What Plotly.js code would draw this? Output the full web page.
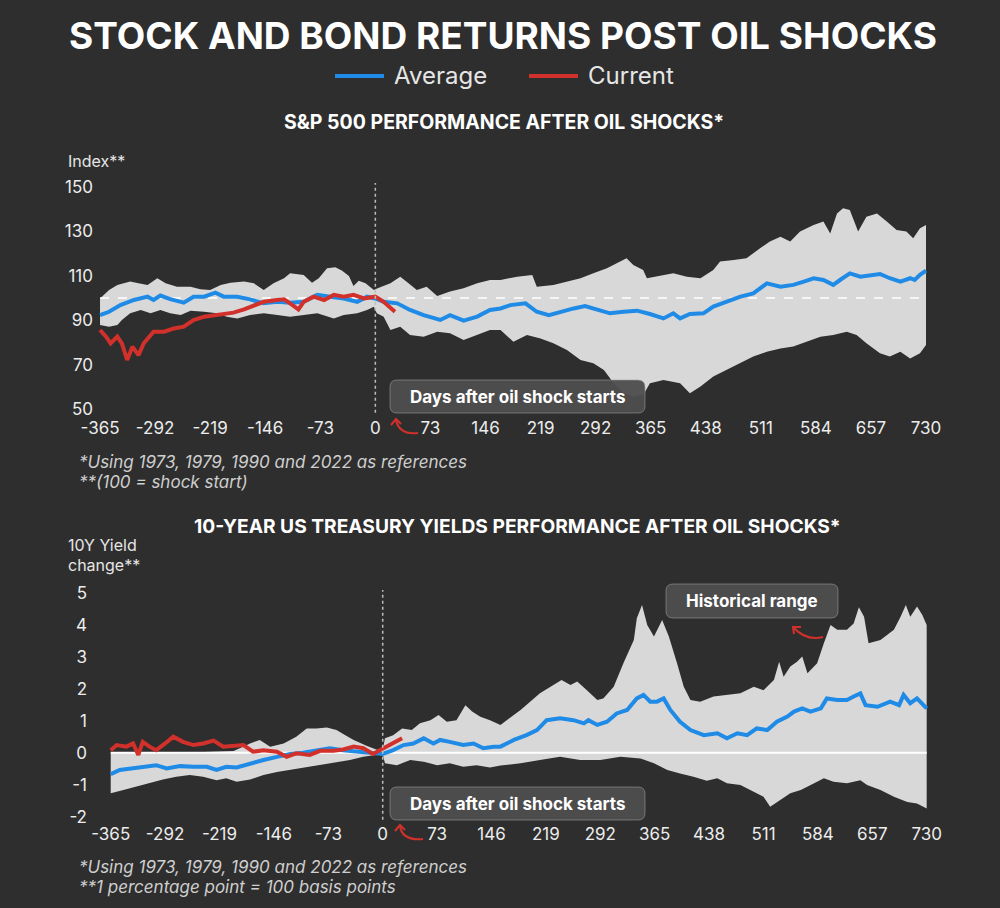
<!DOCTYPE html>
<html>
<head>
<meta charset="utf-8">
<script src="https://cdn.plot.ly/plotly-3.0.1.min.js"></script>
<style>
  html, body { margin: 0; padding: 0; background: #2e2e2e; }
  #chart { width: 1000px; height: 908px; }
</style>
</head>
<body>
<div id="chart"></div>
<script>
// ---- data ----
var xTicks = [-365, -292, -219, -146, -73, 0, 73, 146, 219, 292, 365, 438, 511, 584, 657, 730];
var xTickText = ['-365', '-292', '-219', '-146', '-73', '0', '73', '146', '219', '292', '365', '438', '511', '584', '657', '730'];
var spTicks = [50, 70, 90, 110, 130, 150];
var yieldTicks = [-2, -1, 0, 1, 2, 3, 4, 5];
var yieldTickText = ['-2', '-1', '0', '1', '2', '3', '4', '5'];

// S&P 500 (index, 100 = shock start)
var spUpperDays = [-365,-353,-342,-325,-314,-302,-289,-278,-263,-245,-232,-219,-205,-192,-174,-161,-148,-135,-121,-113,-95,-84,-75,-64,-53,-44,-35,-29,-22,-13,-2,
  3,20,33,44,55,68,82,99,117,135,152,166,188,208,214,236,254,272,289,307,320,333,342,355,360,373,395,413,431,448,457,475,492,510,523,537,550,563,581,594,603,612,620,629,640,651,665,678,691,704,713,722,730];
var spUpper = [99.8,103.6,105.9,107.4,106.6,105.9,108.9,106.6,105.1,105.1,103.9,103.6,105.9,106.9,107.4,106.6,103.6,106.6,108.9,111.1,110.4,106.9,108.9,113.4,113.8,112.3,109.9,105.4,107.8,106.6,103.6,
  104.4,106.6,109.6,106.6,103.6,105.1,100.9,102.9,104.4,106.6,108.1,108.1,109.6,110.4,105.1,105.9,107.4,108.9,111.1,113.4,115.6,117.9,114.9,112.6,108.9,109.6,111.1,109.6,108.9,112.6,116.4,117.1,117.9,122.4,125.4,127.6,125.4,129.9,132.9,134.4,129.1,138.1,140.4,139.6,129.9,136.6,138.1,134.4,130.6,129.9,126.9,131.4,132.9];

var spLowerDays = [-365,-353,-342,-336,-325,-311,-298,-285,-272,-258,-245,-227,-210,-197,-183,-166,-148,-130,-113,-95,-77,-55,-42,-24,-11,-2,
  2,11,20,33,46,64,82,99,117,135,152,166,183,201,219,236,254,272,289,303,316,329,342,355,364,382,404,417,431,448,466,484,501,519,537,554,572,590,607,625,638,651,669,682,696,709,722,730];
var spLower = [87.8,87.1,87.8,90.1,93.1,94.6,93.1,94.6,93.1,92.3,94.3,93.8,93.1,91.6,90.8,92.3,93.1,92.3,91.6,92.3,93.1,90.8,92.3,93.1,94.6,96.1,
  93.1,91.6,85.6,87.1,83.3,82.6,84.8,84.1,81.1,83.3,85.6,85.6,80.3,83.3,81.8,79.6,76.6,72.1,70.6,67.6,61.6,57.1,55.6,56.3,61.6,63.1,61.6,57.1,60.1,64.6,67.6,70.6,73.6,75.8,77.3,78.1,80.3,82.6,83.3,84.8,83.3,79.6,75.1,73.6,75.8,72.8,75.1,78.8];

var spAvgDays = [-365,-353,-338,-320,-302,-294,-285,-272,-254,-241,-227,-212,-201,-183,-166,-148,-130,-113,-95,-77,-60,-42,-24,-11,0,
  11,29,46,64,86,99,117,135,152,166,179,199,214,230,245,263,278,294,311,329,347,364,382,395,404,417,435,448,466,484,501,519,537,554,568,581,594,607,616,629,643,656,669,682,696,709,715,722,730];
var spAvg = [92.3,93.8,96.8,99.1,100.6,99.1,101.1,99.5,97.9,100.6,100.6,102.4,100.6,100.6,99.4,97.6,98.3,97.9,98.3,101.4,100.6,99.8,98.3,100.6,99.8,
  98.3,97.6,94.6,92.3,90.1,92.3,89.8,91.6,94.6,95.3,96.8,97.6,93.8,92.3,93.8,95.3,96.4,94.6,93.1,93.8,94.3,92.8,90.8,93.1,90.8,92.8,93.1,96.1,98.3,100.6,102.1,106.6,105.1,105.9,107.4,108.9,108.1,105.9,108.1,111.1,109.6,110.4,110.8,108.9,107.4,108.9,108.1,110.4,112.3];

var spCurDays = [-365,-357,-351,-342,-336,-329,-322,-314,-307,-294,-280,-267,-254,-241,-227,-214,-201,-188,-174,-161,-148,-130,-121,-113,-102,-95,-82,-68,-55,-42,-29,-15,0,11,26];
var spCur = [85.6,82.6,79.6,82.6,79.6,72.1,78.1,74.3,79.6,84.8,84.8,86.3,87.1,90.1,91.6,92.3,92.8,93.4,94.9,96.8,98.3,99.1,99.4,97.6,94.9,98.3,100.6,99.1,101.4,100.6,101.4,99.8,100.6,98.3,93.8];

// 10Y yield change (percentage points)
var yUpperDays = [-365,-300,-240,-200,-178,-165,-151,-133,-116,-102,-89,-75,-62,-53,-39,-21,-6,0,
  3,14,26,39,50,64,75,86,99,111,120,131,144,158,185,211,225,240,252,261,274,288,296,310,323,337,341,348,355,364,375,384,395,404,413,426,444,462,480,498,511,525,532,538,547,556,563,570,583,592,601,610,623,632,639,646,652,668,686,695,702,708,717,724,730];
var yUpper = [0.0,0.0,0.02,0.05,0.29,0.40,0.19,0.29,0.50,0.76,0.76,0.79,0.71,0.59,0.40,0.21,0.08,0.08,
  0.45,0.55,0.76,0.71,0.92,1.02,1.18,0.97,1.02,1.49,1.29,1.13,1.02,0.87,1.34,1.86,2.07,2.28,2.12,2.23,1.96,1.65,1.70,2.07,2.80,3.53,4.21,4.63,4.00,3.64,4.16,3.64,2.80,2.07,1.65,1.60,1.76,1.81,1.86,2.07,1.96,2.28,2.85,2.38,2.70,2.85,3.01,2.49,2.80,3.43,4.00,3.85,3.85,4.05,4.56,4.26,3.43,3.53,3.85,4.26,4.63,4.26,4.58,4.32,4.00];

var yLowerDays = [-365,-348,-330,-313,-295,-277,-259,-241,-223,-210,-196,-178,-160,-142,-124,-107,-89,-71,-57,-44,-26,-13,0,
  3,19,37,55,73,90,108,126,144,158,185,211,238,265,292,319,346,364,382,399,417,435,449,462,480,498,511,520,534,547,561,579,592,605,623,641,650,668,686,704,717,730];
var yLower = [-1.27,-1.17,-1.07,-0.96,-0.84,-0.75,-0.70,-0.75,-0.86,-0.80,-0.91,-0.84,-0.70,-0.60,-0.54,-0.46,-0.39,-0.33,-0.28,-0.23,-0.13,-0.08,-0.04,
  -0.33,-0.39,-0.23,-0.28,-0.39,-0.33,-0.44,-0.39,-0.46,-0.40,-0.33,-0.23,-0.13,-0.23,-0.23,-0.13,-0.18,-0.33,-0.54,-0.65,-0.75,-0.88,-0.80,-0.96,-1.01,-1.22,-1.38,-1.69,-1.48,-1.27,-1.17,-0.96,-0.80,-0.91,-0.96,-0.86,-1.01,-1.17,-1.38,-1.54,-1.59,-1.75];

var yAvgDays = [-365,-353,-335,-317,-304,-290,-272,-254,-236,-223,-210,-196,-178,-160,-142,-124,-107,-89,-71,-53,-35,-17,0,
  14,28,41,55,68,77,90,108,122,135,149,158,176,193,207,220,238,256,270,276,288,301,314,328,341,350,359,368,377,386,399,413,431,449,462,476,489,502,516,529,543,552,563,574,588,596,610,623,632,641,648,664,681,693,699,708,717,730];
var yAvg = [-0.67,-0.54,-0.49,-0.44,-0.39,-0.49,-0.42,-0.44,-0.44,-0.54,-0.44,-0.46,-0.33,-0.23,-0.13,-0.04,0.0,0.08,0.14,0.08,0.03,-0.02,-0.04,
  0.08,0.24,0.29,0.45,0.29,0.40,0.34,0.24,0.29,0.14,0.19,0.19,0.40,0.55,0.71,1.02,1.08,1.02,0.92,1.02,0.87,0.97,1.23,1.34,1.70,1.81,1.60,1.60,1.70,1.34,0.97,0.71,0.55,0.61,0.45,0.61,0.55,0.76,0.71,0.97,1.13,1.29,1.39,1.29,1.39,1.70,1.65,1.65,1.76,1.86,1.49,1.44,1.60,1.49,1.81,1.55,1.70,1.39];

var yCurDays = [-365,-357,-344,-335,-328,-322,-313,-304,-292,-281,-268,-254,-241,-227,-214,-201,-187,-174,-160,-142,-129,-116,-98,-84,-66,-53,-39,-26,-13,-4,5,19,26];
var yCur = [0.08,0.24,0.19,0.29,-0.07,0.34,0.19,0.08,0.29,0.50,0.34,0.24,0.29,0.38,0.19,0.21,0.24,0.03,0.08,0.03,-0.13,-0.02,-0.07,0.06,0.06,0.10,0.19,0.14,-0.04,0.08,0.19,0.34,0.45];

// ---- styling ----
var BG = '#2e2e2e';
var BAND = '#d8d8d8';
var BLUE = '#1f8be6';
var RED = '#d2312b';
var W = 1000, H = 908;

function px(x) { return x / W; }
function py(y) { return 1 - y / H; }

function band(upD, up, loD, lo, xa, ya) {
  return {
    x: upD.concat(loD.slice().reverse()),
    y: up.concat(lo.slice().reverse()),
    xaxis: xa, yaxis: ya,
    mode: 'lines', fill: 'toself', fillcolor: BAND,
    line: {width: 0, color: BAND},
    hoverinfo: 'skip', showlegend: false
  };
}

function series(d, v, color, xa, ya) {
  return {
    x: d, y: v, xaxis: xa, yaxis: ya,
    mode: 'lines',
    line: {color: color, width: 4, shape: 'linear'},
    hoverinfo: 'skip', showlegend: false
  };
}

function refLine(val, dash, xa, ya) {
  return {
    x: [xTicks[0], xTicks[xTicks.length - 1]], y: [val, val],
    xaxis: xa, yaxis: ya, mode: 'lines',
    line: {color: '#ffffff', width: dash === 'solid' ? 2 : 1.5, dash: dash},
    hoverinfo: 'skip', showlegend: false
  };
}

// rounded box in pixel coords -> paper path
function roundBox(x0, y0, x1, y1, r) {
  var p = function (x, y) { return px(x) + ',' + py(y); };
  return 'M' + p(x0 + r, y0) + ' L' + p(x1 - r, y0) + ' Q' + p(x1, y0) + ' ' + p(x1, y0 + r) +
    ' L' + p(x1, y1 - r) + ' Q' + p(x1, y1) + ' ' + p(x1 - r, y1) +
    ' L' + p(x0 + r, y1) + ' Q' + p(x0, y1) + ' ' + p(x0, y1 - r) +
    ' L' + p(x0, y0 + r) + ' Q' + p(x0, y0) + ' ' + p(x0 + r, y0) + ' Z';
}

function curve(pts) {
  // pts: [tail, control, end]
  var p = function (q) { return px(q[0]) + ',' + py(q[1]); };
  return 'M' + p(pts[0]) + ' Q' + p(pts[1]) + ' ' + p(pts[2]);
}

function polyl(pts) {
  var s = '';
  pts.forEach(function (q, i) { s += (i ? ' L' : 'M') + px(q[0]) + ',' + py(q[1]); });
  return s;
}

function boxShape(x0, y0, x1, y1) {
  return {type: 'path', xref: 'paper', yref: 'paper', path: roundBox(x0, y0, x1, y1, 7),
    fillcolor: 'rgba(78,78,78,0.96)', line: {color: 'rgba(160,160,160,0.55)', width: 1}, layer: 'above'};
}
function redPath(path) {
  return {type: 'path', xref: 'paper', yref: 'paper', path: path,
    line: {color: RED, width: 2}, layer: 'above'};
}

var data = [
  band(spUpperDays, spUpper, spLowerDays, spLower, 'x', 'y'),
  refLine(100, 'dash', 'x', 'y'),
  series(spAvgDays, spAvg, BLUE, 'x', 'y'),
  series(spCurDays, spCur, RED, 'x', 'y'),
  band(yUpperDays, yUpper, yLowerDays, yLower, 'x2', 'y2'),
  refLine(0, 'solid', 'x2', 'y2'),
  series(yAvgDays, yAvg, BLUE, 'x2', 'y2'),
  series(yCurDays, yCur, RED, 'x2', 'y2')
];

var tickFont = {family: 'Inter, Roboto, sans-serif', size: 17, color: '#ececec'};
var axisBase = {showgrid: false, zeroline: false, showline: false, ticks: '', fixedrange: true, tickfont: tickFont};

var textFont = function (size, weight, color, style) {
  return {family: 'Inter, Roboto, sans-serif', size: size, weight: weight, color: color || '#ffffff', style: style || 'normal'};
};

function label(text, x, y, font, xanchor) {
  return {text: text, xref: 'paper', yref: 'paper', x: px(x), y: py(y), xanchor: xanchor || 'center', yanchor: 'middle',
    showarrow: false, font: font, align: 'left'};
}

var layout = {
  width: W, height: H,
  margin: {l: 0, r: 0, t: 0, b: 0},
  paper_bgcolor: BG, plot_bgcolor: 'rgba(0,0,0,0)',
  showlegend: false,
  xaxis: Object.assign({}, axisBase, {domain: [0.097, 0.95], range: [-369, 761.8], anchor: 'y', tickvals: xTicks, ticktext: xTickText}),
  yaxis: Object.assign({}, axisBase, {domain: [py(416), py(175)], range: [46.85, 155.4], anchor: 'x', tickvals: spTicks, ticklabelstandoff: 3}),
  xaxis2: Object.assign({}, axisBase, {domain: [0.1, 0.95], range: [-379.4, 761.3], anchor: 'y2', tickvals: xTicks, ticktext: xTickText}),
  yaxis2: Object.assign({}, axisBase, {domain: [py(822), py(580)], range: [-2.17, 5.41], anchor: 'x2', tickvals: yieldTicks, ticktext: yieldTickText, ticklabelstandoff: 12}),
  shapes: [
    // day-0 markers
    {type: 'line', xref: 'x', yref: 'y', x0: 0, x1: 0, y0: 48.3, y1: 151.8, line: {color: '#bdbdbd', width: 1.5, dash: 'dot'}, layer: 'above'},
    {type: 'line', xref: 'x2', yref: 'y2', x0: 0, x1: 0, y0: -2.1, y1: 5.1, line: {color: '#bdbdbd', width: 1.5, dash: 'dot'}, layer: 'above'},
    // legend keys
    {type: 'line', xref: 'paper', yref: 'paper', x0: px(335), x1: px(384), y0: py(76), y1: py(76), line: {color: BLUE, width: 4}},
    {type: 'line', xref: 'paper', yref: 'paper', x0: px(529), x1: px(578), y0: py(76), y1: py(76), line: {color: RED, width: 4}},
    // callout boxes
    boxShape(390, 380, 645, 413),
    boxShape(390, 787, 645, 820),
    boxShape(666, 584, 838, 618),
    // hand-drawn arrows
    redPath(curve([[418, 433], [399, 435], [396, 420]])),
    redPath(polyl([[391, 425], [396, 419], [401, 424]])),
    redPath(curve([[423, 839], [402, 841], [400, 826]])),
    redPath(polyl([[395, 831], [400, 825], [405, 830]])),
    redPath(curve([[823, 637], [806, 641], [794, 628]])),
    redPath(polyl([[801, 627], [793, 627], [794, 634]]))
  ],
  annotations: [
    label('STOCK AND BOND RETURNS POST OIL SHOCKS', 503, 35, textFont(37, 700)),
    label('Average', 392, 76, textFont(24, 400, '#e6e6e6'), 'left'),
    label('Current', 586, 76, textFont(24, 400, '#e6e6e6'), 'left'),
    label('S&amp;P 500 PERFORMANCE AFTER OIL SHOCKS*', 504, 122, textFont(19.5, 700)),
    label('Index**', 66, 161, textFont(16, 400, '#e6e6e6'), 'left'),
    label('*Using 1973, 1979, 1990 and 2022 as references', 77, 462, textFont(17, 400, '#cfcfcf', 'italic'), 'left'),
    label('**(100 = shock start)', 77, 482, textFont(17, 400, '#cfcfcf', 'italic'), 'left'),
    label('10-YEAR US TREASURY YIELDS PERFORMANCE AFTER OIL SHOCKS*', 517, 526, textFont(19.2, 700)),
    label('10Y Yield', 66, 545, textFont(16, 400, '#e6e6e6'), 'left'),
    label('change**', 66, 565, textFont(16, 400, '#e6e6e6'), 'left'),
    label('*Using 1973, 1979, 1990 and 2022 as references', 77, 867, textFont(17, 400, '#cfcfcf', 'italic'), 'left'),
    label('**1 percentage point = 100 basis points', 77, 887, textFont(17, 400, '#cfcfcf', 'italic'), 'left'),
    label('Days after oil shock starts', 517, 397, textFont(17, 700)),
    label('Days after oil shock starts', 517, 804, textFont(17, 700)),
    label('Historical range', 752, 601, textFont(17, 700))
  ]
};

Plotly.newPlot('chart', data, layout, {staticPlot: true, displayModeBar: false});
</script>
</body>
</html>
